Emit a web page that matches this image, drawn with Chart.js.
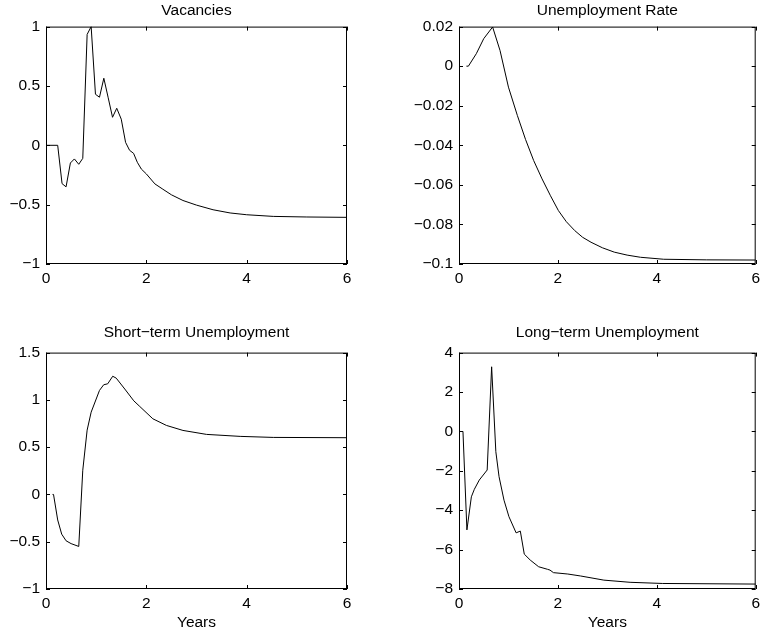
<!DOCTYPE html>
<html>
<head>
<meta charset="utf-8">
<script src="https://cdn.jsdelivr.net/npm/chart.js@4.4.0/dist/chart.umd.min.js"></script>
<style>
    html, body { margin: 0; padding: 0; background: #fff; }
    #wrap { position: relative; width: 765px; height: 637px; }
    .panel { position: absolute; }
</style>
</head>
<body>
<div id="wrap">
    <div class="panel" style="left:0;top:0"><canvas id="vacChart" width="362" height="300"></canvas></div>
    <div class="panel" style="left:380px;top:0"><canvas id="urChart" width="385" height="300"></canvas></div>
    <div class="panel" style="left:0;top:318px"><canvas id="stChart" width="362" height="319"></canvas></div>
    <div class="panel" style="left:380px;top:318px"><canvas id="ltChart" width="385" height="319"></canvas></div>
</div>
<script>
// Impulse responses, x in years
const xTicks = [0, 2, 4, 6];

const vacYears = [0, 0.233, 0.32, 0.4, 0.486, 0.566, 0.653, 0.733, 0.82, 0.9, 0.986, 1.066, 1.153, 1.24, 1.326, 1.41, 1.5, 1.586, 1.666, 1.746, 1.82, 1.9, 2.0, 2.17, 2.33, 2.5, 2.73, 3.0, 3.33, 3.67, 4.0, 4.53, 5.2, 6.0];
const vacValues = [0, 0, -0.323, -0.35, -0.149, -0.115, -0.16, -0.11, 0.934, 1.0, 0.43, 0.405, 0.565, 0.4, 0.236, 0.312, 0.22, 0.025, -0.042, -0.068, -0.143, -0.2, -0.241, -0.325, -0.37, -0.417, -0.465, -0.504, -0.543, -0.57, -0.585, -0.599, -0.604, -0.607];
const vacTicks = [-1, -0.5, 0, 0.5, 1];

const urYears = [0.15, 0.19, 0.35, 0.5, 0.68, 0.83, 1.0, 1.18, 1.345, 1.51, 1.68, 1.85, 2.01, 2.17, 2.34, 2.5, 2.67, 2.9, 3.14, 3.4, 3.67, 4.14, 5.0, 6.0];
const urValues = [0, 0, 0.0063, 0.0139, 0.0198, 0.0079, -0.0106, -0.0249, -0.037, -0.0477, -0.057, -0.0655, -0.073, -0.0786, -0.0831, -0.0865, -0.089, -0.0918, -0.094, -0.0955, -0.0966, -0.0976, -0.0979, -0.098];
const urTicks = [-0.1, -0.08, -0.06, -0.04, -0.02, 0, 0.02];

const stYears = [0.13, 0.15, 0.233, 0.313, 0.4, 0.5, 0.653, 0.733, 0.82, 0.9, 1.066, 1.15, 1.23, 1.33, 1.4, 1.57, 1.75, 1.87, 2.13, 2.4, 2.73, 3.2, 3.87, 4.53, 6.0];
const stValues = [0, 0, -0.27, -0.42, -0.49, -0.52, -0.55, 0.256, 0.68, 0.87, 1.1, 1.16, 1.17, 1.25, 1.23, 1.115, 0.99, 0.93, 0.8, 0.73, 0.677, 0.635, 0.614, 0.603, 0.6];
const stTicks = [-1, -0.5, 0, 0.5, 1, 1.5];

const ltYears = [0.08, 0.16, 0.25, 0.31, 0.41, 0.57, 0.66, 0.745, 0.81, 0.91, 1.01, 1.155, 1.24, 1.32, 1.44, 1.61, 1.79, 1.84, 1.91, 2.2, 2.46, 2.93, 3.46, 4.12, 6.0];
const ltValues = [0, -5.0, -3.32, -2.94, -2.47, -1.96, 3.28, -1.03, -2.3, -3.49, -4.33, -5.15, -5.06, -6.23, -6.53, -6.87, -7.0, -7.04, -7.17, -7.24, -7.34, -7.55, -7.66, -7.72, -7.75];
const ltTicks = [-8, -6, -4, -2, 0, 2, 4];

const FONT = { family: '"Liberation Sans", Arial, Helvetica, sans-serif', size: 15.5, lineHeight: 1.2 };
const TICK_LEN = 4;

// MATLAB style frame with inward ticks on all four sides
const boxPlugin = {
    id: 'matlabBox',
    afterDraw(chart) {
        const { ctx, chartArea: a, scales: { x, y } } = chart;
        ctx.save();
        ctx.strokeStyle = '#000';
        ctx.lineWidth = 1;
        ctx.beginPath();
        x.ticks.forEach(t => {
            const px = Math.round(x.getPixelForValue(t.value)) + 0.5;
            ctx.moveTo(px, a.bottom); ctx.lineTo(px, a.bottom - TICK_LEN);
            ctx.moveTo(px, a.top); ctx.lineTo(px, a.top + TICK_LEN);
        });
        y.ticks.forEach(t => {
            const py = Math.round(y.getPixelForValue(t.value)) + 0.5;
            ctx.moveTo(a.left, py); ctx.lineTo(a.left + TICK_LEN, py);
            ctx.moveTo(a.right, py); ctx.lineTo(a.right - TICK_LEN, py);
        });
        ctx.stroke();
        ctx.strokeRect(a.left + 0.5, a.top + 0.5, a.right - a.left - 1, a.bottom - a.top - 1);
        ctx.restore();
    }
};

function fmt(v) {
    return String(v).replace('-', '\u2212');
}

function makePanel(id, title, xs, ys, yTicks, cfg) {
    const points = xs.map((x, i) => ({ x: x, y: ys[i] }));
    return new Chart(document.getElementById(id), {
        type: 'line',
        data: {
            datasets: [{
                data: points,
                borderColor: '#000',
                borderWidth: 1,
                pointRadius: 0,
                tension: 0,
                fill: false
            }]
        },
        options: {
            responsive: false,
            animation: false,
            devicePixelRatio: 1,
            events: [],
            layout: { padding: { left: 0, right: cfg.padRight, top: 0, bottom: 0 } },
            plugins: {
                legend: { display: false },
                tooltip: { enabled: false },
                title: {
                    display: true,
                    fullSize: false,
                    text: title,
                    color: '#000',
                    font: { ...FONT, weight: 'normal' },
                    padding: cfg.titlePad
                }
            },
            scales: {
                x: {
                    type: 'linear',
                    min: 0,
                    max: 6,
                    grid: { display: false, drawTicks: false },
                    border: { display: false },
                    afterBuildTicks: s => { s.ticks = xTicks.map(v => ({ value: v })); },
                    afterFit: s => { s.height = cfg.xHeight; },
                    ticks: { color: '#000', font: FONT, padding: 5, maxRotation: 0, callback: v => fmt(v) },
                    title: {
                        display: !!cfg.xTitle,
                        text: cfg.xTitle || '',
                        color: '#000',
                        font: FONT,
                        padding: { top: 0, bottom: 5 }
                    }
                },
                y: {
                    type: 'linear',
                    min: yTicks[0],
                    max: yTicks[yTicks.length - 1],
                    grid: { display: false, drawTicks: false },
                    border: { display: false },
                    afterBuildTicks: s => { s.ticks = yTicks.map(v => ({ value: v })); },
                    afterFit: s => { s.width = cfg.yWidth; },
                    ticks: { color: '#000', font: FONT, padding: 6, callback: v => fmt(v) }
                }
            }
        },
        plugins: [boxPlugin]
    });
}

makePanel('vacChart', 'Vacancies', vacYears, vacValues, vacTicks,
    { yWidth: 46, xHeight: 36, padRight: 15, titlePad: { top: 1, bottom: 7 } });
makePanel('urChart', 'Unemployment Rate', urYears, urValues, urTicks,
    { yWidth: 79, xHeight: 36, padRight: 5, titlePad: { top: 1, bottom: 7 } });
makePanel('stChart', 'Short\u2212term Unemployment', stYears, stValues, stTicks,
    { yWidth: 46, xHeight: 48, padRight: 15, titlePad: { top: 5, bottom: 11 }, xTitle: 'Years' });
makePanel('ltChart', 'Long\u2212term Unemployment', ltYears, ltValues, ltTicks,
    { yWidth: 79, xHeight: 48, padRight: 5, titlePad: { top: 5, bottom: 11 }, xTitle: 'Years' });
</script>
</body>
</html>
